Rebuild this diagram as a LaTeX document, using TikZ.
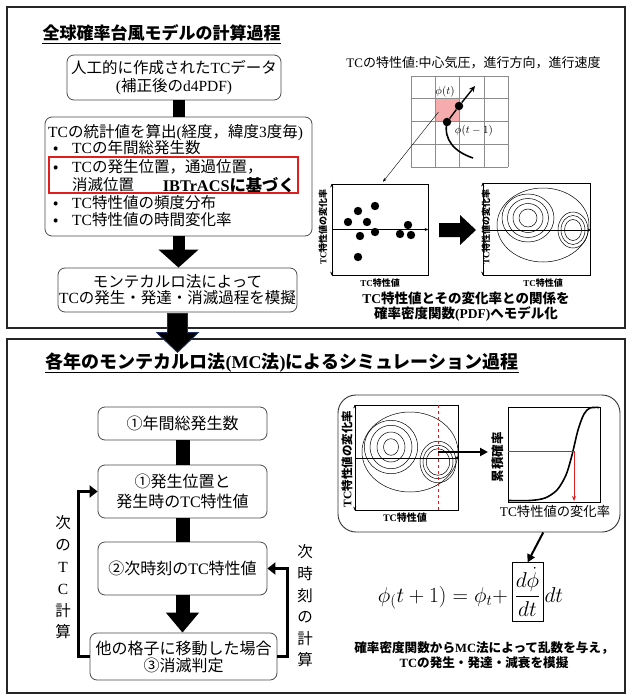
\RequirePackage{fix-cm}
\documentclass[tikz,border=0pt]{standalone}
\usepackage[no-math]{fontspec}
\setmainfont{Noto Sans CJK JP}
\newfontfamily\latf{Liberation Serif}
\usetikzlibrary{arrows.meta,calc}
\newcommand\Lat[1]{{\latf #1}}
\newcommand\fsz[2]{\fontsize{#1}{#2}\selectfont}
\definecolor{navyc}{RGB}{25,45,95}
\definecolor{redc}{RGB}{225,30,30}
\definecolor{pinkc}{RGB}{246,172,172}
\begin{document}
\begin{tikzpicture}[x=1pt,y=-1pt,
 panel/.style={draw=black!85,line width=1.3pt},
 rbox/.style={draw=black!70,line width=0.8pt,rounded corners=7pt,inner sep=0pt},
 tx/.style={inner sep=0pt,font=\fsz{15.5}{18}},
 bar/.style={line width=12pt},
 bigarr/.style={line width=12pt,-{Triangle[width=39pt,length=18pt]}},
 loopar/.style={line width=3.5pt,-{Triangle[width=12pt,length=8pt]}},
 ax/.style={line width=0.5pt},
 tipr/.style={-{Stealth[length=3.5pt,width=3pt]}},
 tips/.style={{Stealth[length=3.5pt,width=3pt]}-{Stealth[length=3.5pt,width=3pt]}},
 dot/.style={circle,fill=black,inner sep=0pt,minimum size=8.5pt},
 plotbox/.style={draw,line width=0.5pt,inner sep=0pt},
 small/.style={inner sep=0pt,font=\bfseries\fsz{9}{9}},
 ring/.style={line width=0.5pt},
 thickarr/.style={line width=2pt,-{Triangle[width=8pt,length=8pt]}}]

\useasboundingbox (0,0) rectangle (628,695);
\fill[white] (0,0) rectangle (628,695);
\draw[panel] (7,7) rectangle (625,328);
\draw[panel] (7,339) rectangle (625,693);

% ---------- top panel ----------
\node[inner sep=0pt,font=\bfseries\fsz{17}{17}] (t1) at (161.5,33) {全球確率台風モデルの計算過程};
\draw[line width=1pt] ($(t1.base west)+(0,3.5)$) -- ($(t1.base east)+(0,3.5)$);

\node[rbox,minimum width=214pt,minimum height=45pt,align=center,font=\fsz{15.5}{18}] (b1) at (174,77.5)
  {人工的に作成された\Lat{TC}データ\\\Lat{(}補正後の\Lat{d4PDF)}};

\node[rbox,minimum width=267pt,minimum height=119pt] (b2) at (178.5,176.5) {};
\node[tx,anchor=west] (l0) at (48,133) {\Lat{TC}の統計値を算出\Lat{(}経度，緯度\Lat{3}度毎\Lat{)}};
\node[tx,anchor=west] (l1) at (53,148) {\makebox[19pt][l]{•}\Lat{TC}の年間総発生数};
\node[tx,anchor=west] (l2) at (53,167) {\makebox[19pt][l]{•}\Lat{TC}の発生位置，通過位置，};
\node[tx,anchor=west] (l3) at (72,185) {消滅位置};
\node[inner sep=0pt,anchor=east,font=\bfseries\fsz{16.3}{18}] (ib) at (295,185) {\Lat{IBTrACS}に基づく};
\node[tx,anchor=west] (l4) at (53,203) {\makebox[19pt][l]{•}\Lat{TC}特性値の頻度分布};
\node[tx,anchor=west] (l5) at (53,220) {\makebox[19pt][l]{•}\Lat{TC}特性値の時間変化率};
\draw[redc,line width=1.3pt] (49,157) rectangle (298,193);

\node[rbox,minimum width=239pt,minimum height=44pt,align=center,font=\fsz{15.5}{16}] (b3) at (177.5,290)
  {モンテカルロ法によって\\\Lat{TC}の発生・発達・消滅過程を模擬};

\draw[bar] (b2.north |- b1.south) -- (b2.north);
\draw[bigarr] (b2.south) -- (b2.south |- b3.north);
\filldraw[fill=black,draw=navyc,line width=0.8pt] ($(b3.south)+(-10,1)$) -- ++(0,19) -- ++(-11,0) -- ++(21,20) -- ++(21,-20) -- ++(-11,0) -- ++(0,-19) -- cycle;

% top right
\node[inner sep=0pt,font=\fsz{13}{13}] (cap) at (473.5,63) {\Lat{TC}の特性値\Lat{:}中心気圧，進行方向，進行速度};
\node[fill=pinkc,inner sep=0pt,minimum width=24.25pt,minimum height=22.75pt] (pk) at (447.4,110.1) {};
\foreach \i in {0,...,4} {
  \draw[black!45,line width=0.5pt] ({411+24.25*\i},76) -- ({411+24.25*\i},167);
  \draw[black!45,line width=0.5pt] (411,{76+22.75*\i}) -- (508,{76+22.75*\i});
}
\node[dot] (d1) at (459,106) {};
\node[dot] (d0) at (447,122) {};
\coordinate (tipc) at (475,86);
\draw[line width=1.4pt] (d0) -- (d1);
\draw[line width=1.4pt,-{Stealth[length=6pt,width=5.5pt]}] (d1) -- (tipc);
\draw[line width=1.6pt] (d0.center) .. controls (443,140) and (455,152) .. (473,158);
\node[inner sep=0pt,font=\fsz{11}{11}] (phit) at (445,92) {$\phi(t)$};
\node[inner sep=0pt,font=\fsz{11}{11}] (phit1) at (474,131) {$\phi(t-1)$};

% scatter plot
\node[plotbox,minimum width=96pt,minimum height=91pt] (sc) at (380,229.5) {};
\draw[ax,tipr] (sc.west) -- (sc.east);
\draw[ax,tips] (sc.south west) -- (sc.north west);
\draw[line width=0.4pt,-{Stealth[length=4pt,width=3pt]}] ($(pk.center)+(-9,2)$) -- ($(sc.north)+(3,-2)$);
\foreach \p in {(348,222),(358,211),(375,206),(367,222),(360,236),(375,232),(400,234),(408,225),(411,235),(358,257)}
  \fill \p circle (4.2);
\node[small,rotate=90] (sy) at (323,227) {\Lat{TC}特性値の変化率};
\node[small] (sx) at (380,283) {\Lat{TC}特性値};

\fill (439,223) -- (460,223) -- (460,215) -- (476,230) -- (460,245) -- (460,237) -- (439,237) -- cycle;

% contour plot
\node[plotbox,minimum width=107pt,minimum height=92pt] (ct) at (536.5,229) {};
\draw[ax,tipr] (483,230) -- (591,230);
\draw[ax,tips] (ct.south west) -- (ct.north west);
\draw[ring] (543,225) ellipse[x radius=46,y radius=37];
\foreach \a/\b in {9/9,15/14.5,20.5/19.5,26/24} \draw[ring] (528,218) ellipse[x radius=\a,y radius=\b];
\foreach \a/\b in {8.5/10.5,12/14.5,15/18} \draw[ring] (573,230) ellipse[x radius=\a,y radius=\b];
\node[small,rotate=90] (cy1) at (486,227) {\Lat{TC}特性値の変化率};
\node[small] (cx1) at (543,283) {\Lat{TC}特性値};

\node[inner sep=0pt,font=\bfseries\fsz{13.5}{15},align=center] (capb) at (466,307)
  {\Lat{TC}特性値とその変化率との関係を\\確率密度関数\Lat{(PDF)}へモデル化};

% ---------- bottom panel ----------
\node[inner sep=0pt,font=\bfseries\fsz{18}{18}] (t2) at (282,363) {各年のモンテカルロ法\Lat{(MC}法\Lat{)}によるシミュレーション過程};
\draw[line width=1pt] ($(t2.base west)+(0,3.5)$) -- ($(t2.base east)+(0,3.5)$);

\node[rbox,minimum width=169pt,minimum height=33pt,font=\fsz{16}{18}] (A) at (182.5,423.5) {①年間総発生数};
\node[rbox,minimum width=169pt,minimum height=53pt,align=center,font=\fsz{16}{20}] (B) at (182.5,491.5) {①発生位置と\\発生時の\Lat{TC}特性値};
\node[rbox,minimum width=169pt,minimum height=53pt,font=\fsz{16}{18}] (C) at (182.5,568.5) {②次時刻の\Lat{TC}特性値};
\node[rbox,minimum width=187pt,minimum height=47pt,align=center,font=\fsz{16}{17}] (D) at (183.5,656.5) {他の格子に移動した場合\\③消滅判定};

\draw[line width=14pt] (A) -- (B);
\draw[line width=14pt] (B) -- (C);
\draw[line width=14pt,-{Triangle[width=32pt,length=20pt]}] (C) -- (C.south |- D.north);
\draw[loopar] (D.west) -- ++(-11,0) |- (B.west);
\draw[loopar] (D.east) -- ++(10,0) |- (C.east);

\node[inner sep=0pt,align=center,font=\fsz{15.5}{21.8}] (vl) at (63,577.5) {次\\の\\\Lat{T}\\\Lat{C}\\計\\算};
\node[inner sep=0pt,align=center,font=\fsz{15.5}{21.6}] (vr) at (305,606) {次\\時\\刻\\の\\計\\算};

% right part
\node[draw=black!80,line width=0.9pt,rounded corners=18pt,minimum width=282pt,minimum height=137pt,inner sep=0pt] (pn) at (479,463.5) {};

\node[plotbox,minimum width=103pt,minimum height=105pt] (ct2) at (406.5,457.5) {};
\draw[ax,tipr] (355,458) -- (459,458);
\draw[ax,tips] (ct2.south west) -- (ct2.north west);
\draw[ring] (410,452) ellipse[x radius=48,y radius=40];
\foreach \a/\b in {7.5/8.3,14/15,21/21.7,26.7/26.7} \draw[ring] (391,447) ellipse[x radius=\a,y radius=\b];
\foreach \a/\b in {11.7/13.3,15/16.7,18/20.8} \draw[ring] (438,462) ellipse[x radius=\a,y radius=\b];
\draw[redc,dashed,line width=0.7pt] (438,405) -- (438,510);
\coordinate (rc) at (438,452);
\coordinate (ae) at (488,452);
\draw[thickarr] (rc) -- (ae);
\node[inner sep=0pt,font=\bfseries\fsz{11.5}{11.5},rotate=90] (cy2) at (347,459) {\Lat{TC}特性値の変化率};
\node[inner sep=0pt,font=\bfseries\fsz{10}{10}] (cx2) at (405,518) {\Lat{TC}特性値};

\node[plotbox,minimum width=92pt,minimum height=95pt] (cdf) at (554,454.5) {};
\draw[line width=1.6pt] plot[smooth] coordinates {(509,500.5) (530,500.5) (545,498) (557,490) (566,475) (572,455) (578,430) (584,414) (590,408) (599,407.5)};
\draw[redc,line width=0.8pt] (cdf.west |- 0,451) -- (574,451);
\draw[redc,line width=0.8pt,-{Stealth[length=5pt,width=4pt]}] (574,451) -- (574,501);
\node[inner sep=0pt,font=\bfseries\fsz{12.5}{12.5},rotate=90] (cy3) at (498,457) {累積確率};
\node[inner sep=0pt,font=\fsz{13.3}{13.3}] (cx3) at (555,511) {\Lat{TC}特性値の変化率};

% equation
\node[inner sep=0pt,anchor=base east,font=\fsz{21.5}{24}] (eqL) at (508,602) {$\phi_(t+1)=\phi_t+$};
\node[draw,line width=0.6pt,inner sep=0pt,minimum width=31pt,minimum height=59pt,anchor=base,font=\fsz{21.5}{24}] (eqb) at (527.5,602) {$\displaystyle\frac{d\dot{\phi}}{dt}$};
\node[inner sep=0pt,anchor=base west,font=\fsz{21.5}{24}] (eqR) at ($(eqb.east |- eqb.base)+(1,0)$) {$dt$};
\draw[thickarr] ($(pn.south west)!0.727!(pn.south east)$) -- (eqb.north);

\node[inner sep=0pt,font=\bfseries\fsz{12.6}{15},align=center] (capc) at (484,655.5)
  {確率密度関数から\Lat{MC}法によって乱数を与え，\\\Lat{TC}の発生・発達・減衰を模擬};
\end{tikzpicture}
\end{document}
